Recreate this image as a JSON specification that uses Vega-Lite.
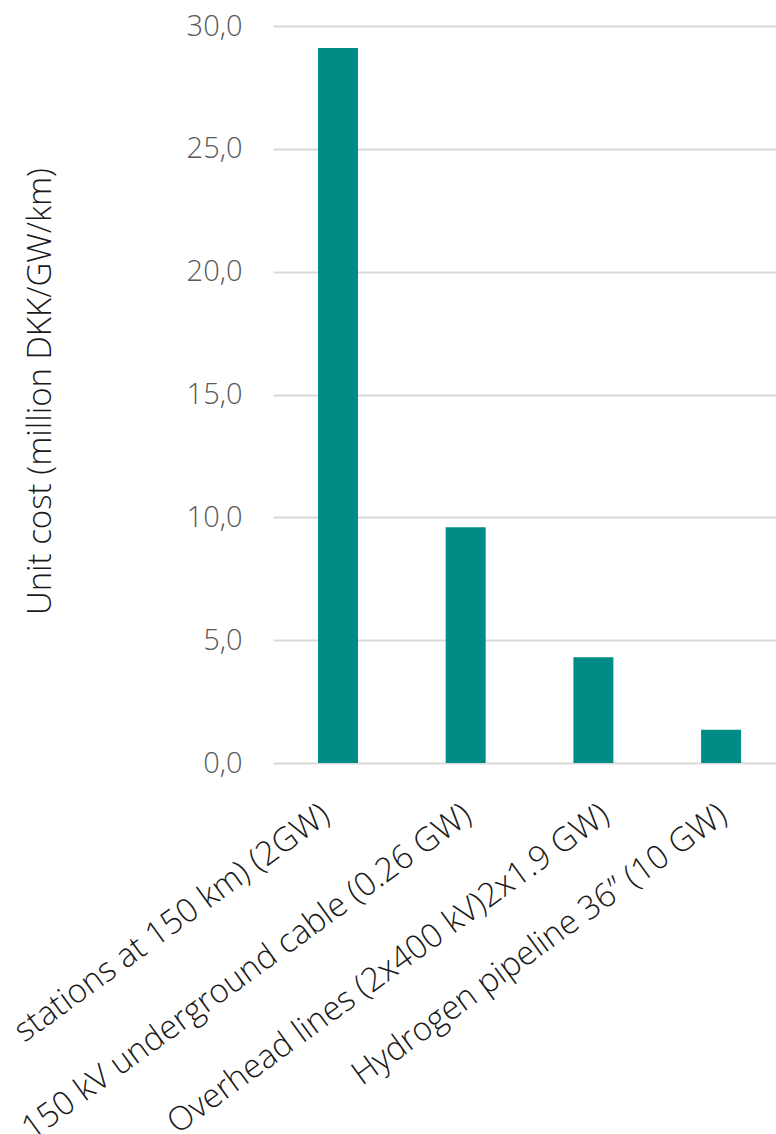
{
  "$schema": "https://vega.github.io/schema/vega-lite/v6.json",
  "autosize": {"type": "none"},
  "padding": {"left": 273, "top": 26, "right": 0, "bottom": 371},
  "width": 503,
  "height": 737,
  "background": "white",
  "config": {
    "view": {"stroke": null},
    "font": "Open Sans"
  },
  "data": {
    "values": [
      {"category": "stations at 150 km) (2GW)", "cost": 29.1},
      {"category": "150 kV underground cable (0.26 GW)", "cost": 9.6},
      {"category": "Overhead lines (2x400 kV)2x1.9 GW)", "cost": 4.3},
      {"category": "Hydrogen pipeline 36” (10 GW)", "cost": 1.35}
    ]
  },
  "mark": {"type": "bar", "color": "#008B86"},
  "encoding": {
    "x": {
      "field": "category",
      "type": "nominal",
      "sort": null,
      "scale": {"paddingInner": 0.687, "paddingOuter": 0.313, "align": 0.563},
      "axis": {
        "title": null,
        "domain": false,
        "ticks": false,
        "labelAngle": -36,
        "labelAlign": "right",
        "labelBaseline": "middle",
        "labelFont": "Open Sans",
        "labelFontSize": 33,
        "labelFontWeight": 300,
        "labelColor": "#1A1A1A",
        "labelPadding": 48,
        "labelOffset": {
          "condition": [
            {"test": "datum.value === 'stations at 150 km) (2GW)'", "value": -12},
            {"test": "datum.value === 'Overhead lines (2x400 kV)2x1.9 GW)'", "value": 12}
          ],
          "value": 2
        },
        "labelLimit": 2000,
        "labelOverlap": false
      }
    },
    "y": {
      "field": "cost",
      "type": "quantitative",
      "scale": {"domain": [0, 30], "nice": false},
      "axis": {
        "values": [0, 5, 10, 15, 20, 25, 30],
        "labelExpr": "replace(format(datum.value, '.1f'), '.', ',')",
        "domain": false,
        "ticks": false,
        "grid": true,
        "gridColor": "#D9D9D9",
        "gridWidth": 2,
        "labelFont": "Open Sans",
        "labelFontSize": 29,
        "labelFontWeight": 300,
        "labelColor": "#595959",
        "labelPadding": 31,
        "title": "Unit cost (million DKK/GW/km)",
        "titleFont": "Open Sans",
        "titleFontSize": 33,
        "titleFontWeight": 300,
        "titleColor": "#1A1A1A",
        "titleAngle": -90,
        "titleAlign": "center",
        "titleBaseline": "middle",
        "titleX": -233,
        "titleY": 365
      }
    }
  }
}
